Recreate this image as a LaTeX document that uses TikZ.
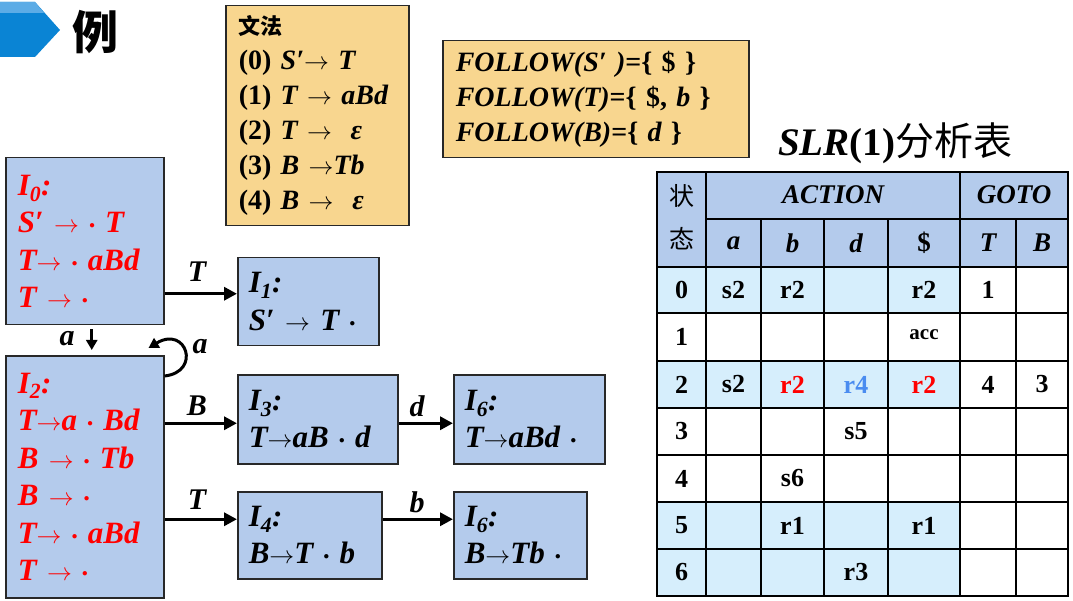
\documentclass[tikz,border=0pt]{standalone}
\usepackage{fontspec}
\usepackage{graphicx}
\setmainfont{Liberation Serif}
\newfontfamily\cjk{Noto Sans CJK SC}
\usetikzlibrary{arrows.meta}
\definecolor{boxblue}{RGB}{180,203,236}
\definecolor{rowblue}{RGB}{214,238,252}
\definecolor{gold}{RGB}{248,214,143}
\definecolor{edgegray}{RGB}{40,40,40}
\definecolor{iconblue}{RGB}{10,132,212}
\definecolor{iconlight}{RGB}{92,172,230}
\definecolor{rfour}{RGB}{74,140,240}
\newcommand{\vi}[1]{{\itshape #1}}
\newcommand{\rarr}{\ensuremath{\rightarrow}}
\newcommand{\dt}{\raisebox{0.13em}{\scalebox{0.45}{$\bullet$}}}
\tikzset{
  stbox/.style={draw=edgegray, line width=1.5pt, fill=boxblue, inner xsep=12pt, inner ysep=0pt,
    align=left, anchor=north west, font=\bfseries\itshape\fontsize{31}{37.5}\selectfont},
  goldbox/.style={draw=edgegray, line width=1.5pt, fill=gold, inner xsep=13pt, inner ysep=0pt,
    align=left, anchor=north west, font=\bfseries\fontsize{28}{35}\selectfont},
  conn/.style={line width=3.5pt, -{Triangle[length=13pt,width=13pt]}},
  thinconn/.style={line width=3pt, -{Triangle[length=10pt,width=11pt]}},
  elabel/.style={font=\bfseries\itshape\fontsize{30}{30}\selectfont, inner sep=0pt},
  grid/.style={line width=2.5pt, black},
  cell/.style={font=\bfseries\fontsize{26}{26}\selectfont, inner sep=0pt},
  hcell/.style={font=\bfseries\itshape\fontsize{27}{27}\selectfont, inner sep=0pt},
}
\begin{document}
\begin{tikzpicture}[x=1pt,y=-1pt]
\useasboundingbox (0,0) rectangle (1073,601);
% title icon
\fill[iconblue] (0,2) -- (35,2) -- (60,30) -- (35,57) -- (0,57) -- cycle;
\fill[iconlight] (0,2) -- (35,2) -- (44,13) -- (0,13) -- cycle;
\node[font=\cjk\bfseries\fontsize{46}{46}\selectfont, inner sep=0pt] (title) at (95,32) {例};

% grammar
\node[goldbox, minimum width=183pt, minimum height=220pt, text width=157pt] (gram) at (225,5)
 {{\cjk\bfseries\fontsize{22}{35}\selectfont 文法}\\
  (0) \vi{S′}\rarr{} \vi{T}\\
  (1) \vi{T} \rarr{} \vi{aBd}\\
  (2) \vi{T} \rarr{} \ \vi{ε}\\
  (3) \vi{B} \rarr\vi{Tb}\\
  (4) \vi{B} \rarr{} \ \vi{ε}};

% follow
\node[goldbox, font=\bfseries\itshape\fontsize{28}{35}\selectfont, minimum width=306pt, minimum height=117pt, text width=280pt] (follow) at (442,40)
 {FOLLOW(S′ ){\upshape=\{ \$ \}}\\
  FOLLOW(T){\upshape=\{ \$,} b {\upshape\}}\\
  FOLLOW(B){\upshape=\{} d {\upshape\}}};

% item sets
\node[stbox, text=red, minimum width=158pt, minimum height=167pt, text width=134pt] (I0) at (5,157)
 {I\textsubscript{0}:\\ S′ \rarr{} \dt{} T\\ T\rarr{} \dt{} aBd\\ T \rarr{} \dt};
\node[stbox, minimum width=141pt, minimum height=88pt, text width=119pt, inner xsep=11pt] (I1) at (237,257)
 {I\textsubscript{1}:\\ S′ \rarr{} T \dt};
\node[stbox, text=red, minimum width=158pt, minimum height=242pt, text width=134pt] (I2) at (5,355)
 {I\textsubscript{2}:\\ T\rarr{}a \dt{} Bd\\ B \rarr{} \dt{} Tb\\ B \rarr{} \dt\\ T\rarr{} \dt{} aBd\\ T \rarr{} \dt};
\node[stbox, minimum width=160pt, minimum height=89pt, text width=138pt, inner xsep=11pt] (I3) at (237,374)
 {I\textsubscript{3}:\\ T\rarr{}aB \dt{} d};
\node[stbox, minimum width=151pt, minimum height=89pt, text width=129pt, inner xsep=11pt] (I6a) at (453,374)
 {I\textsubscript{6}:\\ T\rarr{}aBd \dt};
\node[stbox, minimum width=144pt, minimum height=87pt, text width=122pt, inner xsep=11pt] (I4) at (237,491)
 {I\textsubscript{4}:\\ B\rarr{}T \dt{} b};
\node[stbox, minimum width=133pt, minimum height=87pt, text width=111pt, inner xsep=11pt] (I6b) at (453,491)
 {I\textsubscript{6}:\\ B\rarr{}Tb \dt};

% connectors
\coordinate (p1) at ([yshift=8pt]I1.west);
\draw[conn] (I0.east |- p1) -- (p1);
\node[elabel] (lT1) at (197,272) {T};
\coordinate (p3) at ([yshift=-4pt]I3.west);
\draw[conn] (I2.east |- p3) -- (p3);
\node[elabel] (lB) at (197,406) {B};
\coordinate (p6) at ([yshift=-4pt]I6a.west);
\draw[conn] (I3.east |- p6) -- (p6);
\node[elabel] (ld) at (417,406) {d};
\coordinate (p4) at ([yshift=16pt]I4.west);
\draw[conn] (I2.east |- p4) -- (p4);
\node[elabel] (lT2) at (197,500) {T};
\coordinate (p7) at ([yshift=16pt]I6b.west);
\draw[conn] (I4.east |- p7) -- (p7);
\node[elabel] (lb) at (417,502) {b};
\draw[thinconn, shorten <=4pt, shorten >=5pt] ([xshift=7pt]I0.south) -- ([xshift=7pt]I0.south |- I2.north);
\node[elabel] (la1) at (67,339) {a};
\draw[thinconn] ([yshift=-21pt]I2.north east) .. controls +(37,-4) and +(38,-23) .. ([xshift=-16pt,yshift=7pt]I2.north east);
\node[elabel] (la2) at (200,347) {a};

% table title
\node[inner sep=0pt, font=\bfseries\fontsize{39}{39}\selectfont] (ttitle) at (895,143)
 {\vi{SLR}(1){\cjk\mdseries 分析表}};

% table fills
\fill[boxblue] (657,172) rectangle (1068,267);
\foreach \a/\b in {267/313, 361/408, 502/549, 549/596}
  \fill[rowblue] (657,\a) rectangle (960,\b);
% grid
\draw[grid] (657,172) rectangle (1068,596);
\foreach \x in {706,960} \draw[grid] (\x,172) -- (\x,596);
\foreach \x in {761,824,888,1016} \draw[grid] (\x,219) -- (\x,596);
\draw[grid] (706,219) -- (1068,219);
\foreach \y in {267,313,361,408,455,502,549} \draw[grid] (657,\y) -- (1068,\y);

% header
\node[font=\cjk\fontsize{25}{43}\selectfont, align=center, inner sep=0pt] (hstate) at (681.5,217) {状\\态};
\node[hcell] (hact) at (833,195) {ACTION};
\node[hcell] (hgoto) at (1014,195) {GOTO};
\node[hcell] (ha) at (733.5,243) {a};
\node[hcell] (hb) at (792.5,243) {b};
\node[hcell] (hd) at (856,243) {d};
\node[hcell, font=\bfseries\fontsize{27}{27}\selectfont] (hdol) at (924,243) {\$};
\node[hcell] (hT) at (988,243) {T};
\node[hcell] (hB) at (1042,243) {B};

% body
\foreach \r/\y in {0/290,1/337,2/384.5,3/431.5,4/478.5,5/525.5,6/572.5}
  \node[cell] (s\r) at (681.5,\y) {\r};
\node[cell] (c0a) at (733.5,290) {s2};
\node[cell] (c0b) at (792.5,290) {r2};
\node[cell] (c0s) at (924,290) {r2};
\node[cell] (c0T) at (988,290) {1};
\node[cell, font=\bfseries\fontsize{21}{21}\selectfont] (c1s) at (924,335) {acc};
\node[cell] (c2a) at (733.5,384.5) {s2};
\node[cell, text=red] (c2b) at (792.5,384.5) {r2};
\node[cell, text=rfour] (c2d) at (856,384.5) {r4};
\node[cell, text=red] (c2s) at (924,384.5) {r2};
\node[cell] (c2T) at (988,384.5) {4};
\node[cell] (c2B) at (1042,384.5) {3};
\node[cell] (c3d) at (856,431.5) {s5};
\node[cell] (c4b) at (792.5,478.5) {s6};
\node[cell] (c5b) at (792.5,525.5) {r1};
\node[cell] (c5s) at (924,525.5) {r1};
\node[cell] (c6d) at (856,572.5) {r3};
\end{tikzpicture}
\end{document}
